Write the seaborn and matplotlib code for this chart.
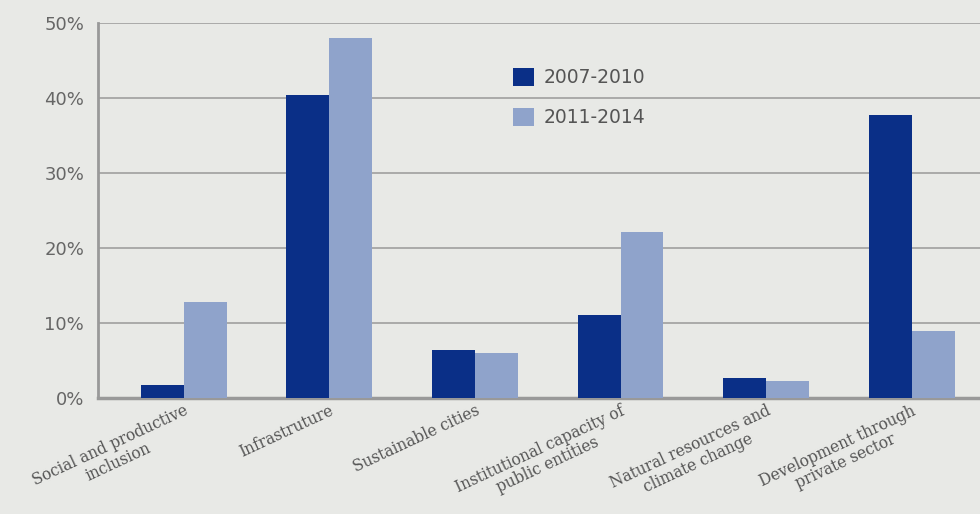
import pandas as pd
import matplotlib.pyplot as plt
import seaborn as sns

# data
categories = ['Social and productive\ninclusion', 'Infrastruture', 'Sustainable cities',
              'Institutional capacity of\npublic entities', 'Natural resources and\nclimate change',
              'Development through\nprivate sector']
periods = ['2007-2010', '2011-2014']
vals_2007 = [1.7, 40.4, 6.4, 11.1, 2.7, 37.8]
vals_2011 = [12.8, 48.0, 6.0, 22.1, 2.3, 9.0]
yticks = [0, 10, 20, 30, 40, 50]
ytick_labels = ['0%', '10%', '20%', '30%', '40%', '50%']

df = pd.DataFrame({
    'category': categories * 2,
    'period': [periods[0]] * 6 + [periods[1]] * 6,
    'share': vals_2007 + vals_2011,
})

bg = '#e8e9e6'
grey = '#999999'
sns.set_style('white')
plt.rcParams['font.family'] = ['DejaVu Sans']

fig = plt.figure(figsize=(9.8, 5.14), dpi=100, facecolor=bg)
ax = fig.add_axes([98 / 980, 1 - 398 / 514, 882 / 980, 375 / 514])
ax.set_facecolor(bg)

sns.barplot(data=df, x='category', y='share', hue='period', order=categories,
            hue_order=periods, palette=['#0a2f87', '#8fa3cb'], width=0.59,
            saturation=1, linewidth=0, ax=ax, zorder=3)

ax.set_ylim(0, 50)
ax.set_xlim(-0.59, 5.47)
ax.set_yticks(yticks)
ax.set_yticklabels(ytick_labels, fontsize=13, color='#666666')
ax.yaxis.grid(True, color=grey, linewidth=1.1, zorder=0)
ax.set_axisbelow(True)
ax.tick_params(axis='y', length=8, width=1.5, color=grey, pad=2)
ax.tick_params(axis='x', length=0, pad=3)
ax.set_xlabel('')
ax.set_ylabel('')

for lbl in ax.get_xticklabels():
    lbl.set_rotation(25)
    lbl.set_ha('right')
    lbl.set_va('top')
    lbl.set_rotation_mode('anchor')
    lbl.set_multialignment('center')
    lbl.set_linespacing(1.05)
    lbl.set_family('DejaVu Serif')
    lbl.set_fontsize(11.2)
    lbl.set_color('#555555')

for side in ['top', 'right']:
    ax.spines[side].set_visible(False)
ax.spines['left'].set_color(grey)
ax.spines['left'].set_linewidth(2)
ax.spines['bottom'].set_color(grey)
ax.spines['bottom'].set_linewidth(2.5)

ax.legend(loc='upper left', bbox_to_anchor=((505 - 98) / 882, (398 - 60) / 375),
          frameon=False, fontsize=13.5, handlelength=1.15, handleheight=1.15,
          handletextpad=0.5, labelspacing=1.1, borderaxespad=0,
          labelcolor='#555555')

fig.savefig('out.png', dpi=100, facecolor=bg)
